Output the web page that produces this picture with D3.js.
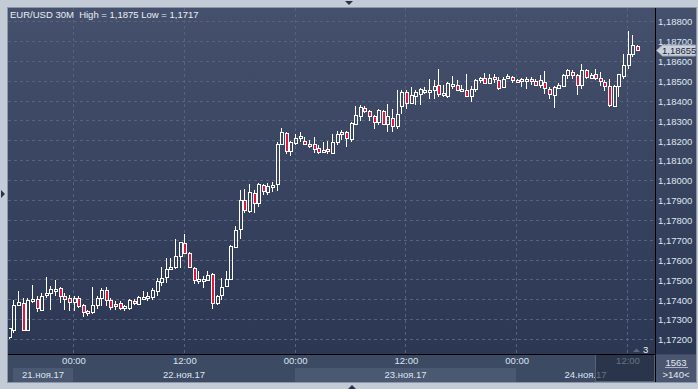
<!DOCTYPE html>
<html><head><meta charset="utf-8">
<script src="https://cdn.jsdelivr.net/npm/d3@7"></script>
<style>
html,body{margin:0;padding:0;background:#c3cbd6;overflow:hidden;}
svg{display:block;font-family:"Liberation Sans",Arial,sans-serif;}
</style></head><body>
<svg id="c" width="698" height="389"></svg>
<script>
// ---------- DATA ----------
const title = "EUR/USD 30M  High = 1,1875 Low = 1,1717";
const firstBarTime = Date.UTC(2017, 10, 21, 17, 0); // 30-minute bars
const barMinutes = 30;
const open = [1.17213,1.17250,1.17372,1.17384,1.17250,1.17397,1.17405,1.17350,1.17422,1.17434,
1.17450,1.17459,1.17420,1.17409,1.17387,1.17409,1.17372,1.17342,1.17337,1.17372,
1.17409,1.17450,1.17397,1.17380,1.17384,1.17359,1.17359,1.17395,1.17380,1.17410,
1.17415,1.17414,1.17442,1.17487,1.17514,1.17554,1.17564,1.17618,1.17684,1.17634,
1.17559,1.17501,1.17502,1.17501,1.17529,1.17384,1.17422,1.17467,1.17504,1.17664,
1.17754,1.17901,1.17848,1.17936,1.17886,1.17977,1.17944,1.17974,1.17981,1.18186,
1.18237,1.18150,1.18190,1.18217,1.18198,1.18186,1.18186,1.18166,1.18148,1.18156,
1.18140,1.18192,1.18232,1.18245,1.18207,1.18282,1.18324,1.18367,1.18349,1.18324,
1.18292,1.18349,1.18282,1.18315,1.18275,1.18375,1.18446,1.18390,1.18424,1.18437,
1.18452,1.18452,1.18454,1.18479,1.18434,1.18426,1.18482,1.18479,1.18456,1.18457,
1.18426,1.18462,1.18504,1.18516,1.18492,1.18521,1.18504,1.18471,1.18518,1.18521,
1.18507,1.18506,1.18504,1.18509,1.18501,1.18479,1.18496,1.18462,1.18429,1.18467,
1.18476,1.18533,1.18546,1.18529,1.18482,1.18558,1.18518,1.18538,1.18518,1.18496,
1.18474,1.18375,1.18474,1.18526,1.18579,1.18638,1.18676];
const high = [1.17259,1.17400,1.17445,1.17409,1.17409,1.17476,1.17417,1.17434,1.17514,1.17467,
1.17497,1.17464,1.17434,1.17425,1.17417,1.17417,1.17380,1.17350,1.17462,1.17417,
1.17457,1.17462,1.17409,1.17392,1.17392,1.17375,1.17404,1.17405,1.17417,1.17445,
1.17437,1.17459,1.17509,1.17564,1.17609,1.17609,1.17704,1.17693,1.17731,1.17638,
1.17564,1.17547,1.17517,1.17547,1.17534,1.17425,1.17509,1.17547,1.17676,1.17771,
1.17952,1.17955,1.17982,1.17950,1.17986,1.17982,1.17986,1.17994,1.18195,1.18262,
1.18245,1.18200,1.18232,1.18242,1.18220,1.18203,1.18220,1.18178,1.18195,1.18198,
1.18233,1.18248,1.18253,1.18248,1.18295,1.18374,1.18379,1.18375,1.18354,1.18332,
1.18359,1.18354,1.18384,1.18362,1.18454,1.18454,1.18454,1.18471,1.18454,1.18466,
1.18471,1.18513,1.18504,1.18559,1.18479,1.18496,1.18526,1.18504,1.18479,1.18537,
1.18474,1.18513,1.18521,1.18542,1.18537,1.18537,1.18521,1.18521,1.18537,1.18526,
1.18513,1.18517,1.18521,1.18521,1.18513,1.18529,1.18549,1.18471,1.18476,1.18492,
1.18534,1.18563,1.18554,1.18537,1.18584,1.18563,1.18542,1.18559,1.18546,1.18504,
1.18509,1.18479,1.18537,1.18638,1.18750,1.18733,1.18683];
const low = [1.17205,1.17233,1.17367,1.17242,1.17242,1.17384,1.17337,1.17342,1.17409,1.17347,
1.17417,1.17384,1.17350,1.17345,1.17342,1.17359,1.17314,1.17317,1.17330,1.17354,
1.17367,1.17367,1.17350,1.17347,1.17350,1.17342,1.17350,1.17375,1.17375,1.17409,
1.17392,1.17400,1.17417,1.17471,1.17484,1.17550,1.17554,1.17559,1.17629,1.17559,
1.17481,1.17481,1.17459,1.17497,1.17354,1.17375,1.17400,1.17464,1.17501,1.17659,
1.17704,1.17835,1.17835,1.17835,1.17869,1.17927,1.17927,1.17944,1.17949,1.18178,
1.18133,1.18125,1.18178,1.18195,1.18178,1.18165,1.18136,1.18131,1.18140,1.18131,
1.18138,1.18178,1.18203,1.18170,1.18195,1.18278,1.18299,1.18342,1.18300,1.18257,
1.18278,1.18278,1.18242,1.18245,1.18258,1.18337,1.18359,1.18384,1.18379,1.18382,
1.18437,1.18409,1.18409,1.18421,1.18421,1.18416,1.18462,1.18454,1.18446,1.18426,
1.18396,1.18446,1.18492,1.18487,1.18487,1.18492,1.18454,1.18467,1.18509,1.18492,
1.18492,1.18471,1.18462,1.18482,1.18476,1.18467,1.18434,1.18409,1.18365,1.18462,
1.18474,1.18513,1.18509,1.18429,1.18462,1.18513,1.18513,1.18504,1.18476,1.18449,
1.18370,1.18370,1.18421,1.18509,1.18563,1.18621,1.18650];
const close = [1.17258,1.17375,1.17389,1.17250,1.17400,1.17405,1.17359,1.17420,1.17434,1.17455,
1.17455,1.17420,1.17404,1.17387,1.17409,1.17367,1.17337,1.17334,1.17372,1.17409,
1.17450,1.17400,1.17364,1.17367,1.17359,1.17370,1.17397,1.17387,1.17414,1.17415,
1.17417,1.17450,1.17492,1.17509,1.17554,1.17567,1.17618,1.17689,1.17634,1.17564,
1.17497,1.17504,1.17506,1.17524,1.17384,1.17420,1.17464,1.17504,1.17668,1.17751,
1.17901,1.17850,1.17940,1.17886,1.17981,1.17949,1.17972,1.17977,1.18186,1.18242,
1.18148,1.18195,1.18215,1.18223,1.18186,1.18185,1.18161,1.18141,1.18155,1.18148,
1.18195,1.18233,1.18242,1.18212,1.18287,1.18329,1.18370,1.18349,1.18324,1.18295,
1.18354,1.18282,1.18325,1.18273,1.18337,1.18446,1.18392,1.18429,1.18446,1.18462,
1.18457,1.18456,1.18474,1.18434,1.18441,1.18492,1.18487,1.18457,1.18459,1.18426,
1.18462,1.18504,1.18516,1.18492,1.18517,1.18509,1.18467,1.18513,1.18524,1.18504,
1.18499,1.18509,1.18509,1.18499,1.18482,1.18504,1.18466,1.18434,1.18471,1.18482,
1.18533,1.18554,1.18529,1.18479,1.18558,1.18521,1.18533,1.18518,1.18501,1.18476,
1.18379,1.18476,1.18534,1.18583,1.18638,1.18683,1.18655];
const priceTicks = [1.172,1.173,1.174,1.175,1.176,1.177,1.178,1.179,1.180,1.181,1.182,1.183,1.184,1.185,1.186,1.187,1.188];
const timeTicks = [Date.UTC(2017,10,22,0),Date.UTC(2017,10,22,12),Date.UTC(2017,10,23,0),Date.UTC(2017,10,23,12),Date.UTC(2017,10,24,0),Date.UTC(2017,10,24,12)];
const timeTickLabels = ["00:00","12:00","00:00","12:00","00:00","12:00"];
const dayStarts = [Date.UTC(2017,10,21,0),Date.UTC(2017,10,22,0),Date.UTC(2017,10,23,0),Date.UTC(2017,10,24,0),Date.UTC(2017,10,25,0)];
const dateLabels = ["21.ноя.17","22.ноя.17","23.ноя.17","24.ноя.17"];
const lastPrice = 1.18655;
const barsTotalLabel = "1563";
const visibleLabel = ">140<";
const markerLabel = "3";

// ---------- LAYOUT ----------
const W = 698, H = 389;
const L = 8, R = 655, T = 8, B = 354, AX = 382, RP = 696;
const svg = d3.select("#c");
const defs = svg.append("defs");
const grad = defs.append("linearGradient").attr("id","bg").attr("gradientUnits","userSpaceOnUse")
  .attr("x1",0).attr("y1",T).attr("x2",0).attr("y2",B);
grad.append("stop").attr("offset","0").attr("stop-color","#45516c");
grad.append("stop").attr("offset","1").attr("stop-color","#2c3753");
defs.append("clipPath").attr("id","clip").append("rect").attr("x",L+1).attr("y",T).attr("width",R-L-1).attr("height",B-T);

const fmt = v => d3.format(".5f")(v).replace(".", ",");
const fmtC = v => v.toString().replace(".", ",");

const bars = open.map((o,i)=>({t:firstBarTime + i*barMinutes*60000, o, h:high[i], l:low[i], c:close[i]}));

const x = d3.scaleUtc().domain([timeTicks[0], timeTicks[timeTicks.length-1]]).range([73.5, 627.5]);
const y = d3.scaleLinear().domain([1.172, 1.188]).range([339.5, 21.5]);

// panel
svg.append("rect").attr("x",7.5).attr("y",7.5).attr("width",RP-7).attr("height",AX-7).attr("fill","#3d4a64").attr("stroke","#8c97a9");
svg.append("rect").attr("x",L).attr("y",T).attr("width",RP-L).attr("height",B-T).attr("fill","url(#bg)");

// grid
const grid = svg.append("g").attr("stroke","#56637e").attr("stroke-dasharray","3,3").attr("stroke-width",1);
priceTicks.forEach(p=>{
  const yy = Math.floor(y(p))+0.5;
  grid.append("line").attr("x1",L).attr("x2",R).attr("y1",yy).attr("y2",yy);
});
timeTicks.forEach(t=>{
  const xx = Math.floor(x(t))+0.5;
  grid.append("line").attr("x1",xx).attr("x2",xx).attr("y1",T).attr("y2",B);
});

// candles
const cg = svg.append("g").attr("clip-path","url(#clip)");
bars.forEach(d=>{
  const cx = Math.round(x(d.t)) + 0.5;
  const top = Math.round(y(Math.max(d.o,d.c)));
  let bot = Math.round(y(Math.min(d.o,d.c)));
  if (bot - top < 2) bot = top + 2;
  const yh = Math.round(y(d.h)), yl = Math.round(y(d.l));
  if (yh < top) cg.append("line").attr("x1",cx).attr("x2",cx).attr("y1",yh).attr("y2",top+0.5).attr("stroke","#fff");
  if (yl > bot) cg.append("line").attr("x1",cx).attr("x2",cx).attr("y1",bot+0.5).attr("y2",yl).attr("stroke","#fff");
  cg.append("rect").attr("x",cx-1).attr("y",top+0.5).attr("width",3).attr("height",bot-top)
    .attr("fill", d.c < d.o ? "#e2163b" : "none").attr("stroke","#fff").attr("stroke-width",1);
});

// title
svg.append("text").attr("x",10).attr("y",18).attr("fill","#e8edf4").attr("font-size","9.5px")
  .style("white-space","pre").text(title);

// right axis
const yAxis = d3.axisRight(y).tickValues(priceTicks).tickSize(0).tickPadding(3).tickFormat(fmt);
const ya = svg.append("g").attr("transform",`translate(${R},0)`).call(yAxis);
ya.select(".domain").remove();
ya.selectAll("text").attr("fill","#dfe6f1").attr("font-size","9.5px").attr("font-family","Liberation Sans, Arial, sans-serif").attr("dy","0.35em");

// bottom axis area
svg.append("rect").attr("x",L).attr("y",B+1).attr("width",R-L).attr("height",AX-B-1).attr("fill","#3d4a64");
dayStarts.slice(0,-1).forEach((d,i)=>{
  const x0 = Math.max(13, Math.floor(x(d))), x1 = Math.min(R, Math.floor(x(dayStarts[i+1])));
  if (i % 2 === 0) svg.append("rect").attr("x",x0).attr("y",368).attr("width",x1-x0).attr("height",AX-368).attr("fill","#4b5871");
  svg.append("text").attr("x",(x0+x1)/2).attr("y",377.5).attr("text-anchor","middle").attr("fill","#dbe4f1").attr("font-size","9.5px").text(dateLabels[i]);
});
const xAxis = d3.axisBottom(x).tickValues(timeTicks).tickSize(0).tickPadding(0).tickFormat((d,i)=>timeTickLabels[i]);
const xa = svg.append("g").attr("transform",`translate(0,${B+3})`).call(xAxis);
xa.select(".domain").remove();
xa.selectAll("text").attr("fill","#dbe4f1").attr("font-size","9.5px").attr("font-family","Liberation Sans, Arial, sans-serif").attr("dy","0.71em");
// dimmed "future" zone
svg.append("rect").attr("x",595.5).attr("y",B+0.5).attr("width",R-596).attr("height",AX-B-1)
  .attr("fill","#1e273c").attr("fill-opacity",0.62).attr("stroke","#56627a");

// separators
svg.append("line").attr("x1",L).attr("x2",R).attr("y1",B+0.5).attr("y2",B+0.5).attr("stroke","#000");
svg.append("line").attr("x1",R+0.5).attr("x2",R+0.5).attr("y1",T).attr("y2",AX).attr("stroke","#000");

// right bottom box
svg.append("rect").attr("x",R+1).attr("y",B+1).attr("width",RP-R-1).attr("height",AX-B-1).attr("fill","#4a566f");
svg.append("text").attr("x",676).attr("y",365.5).attr("text-anchor","middle").attr("fill","#e3e9f2").attr("font-size","9.5px").text(barsTotalLabel);
svg.append("line").attr("x1",665).attr("x2",688).attr("y1",367.5).attr("y2",367.5).attr("stroke","#aab4c4");
svg.append("text").attr("x",676).attr("y",377.5).attr("text-anchor","middle").attr("fill","#e3e9f2").attr("font-size","9.5px").text(visibleLabel);

// marker "3"
svg.append("path").attr("d","M633,352 L640,352 L636.5,348.5 Z").attr("fill","#5b6780");
svg.append("text").attr("x",643).attr("y",352.5).attr("fill","#eef2f7").attr("font-size","9.5px").text(markerLabel);

// last price label
const yc = Math.round(y(lastPrice)) + 0.5;
svg.append("path").attr("d",`M656.5,${yc} L662.5,${yc-5.5} L695.5,${yc-5.5} L695.5,${yc+5.5} L662.5,${yc+5.5} Z`)
  .attr("fill","#c9d1dc").attr("stroke","#98a3b4");
svg.append("text").attr("x",662).attr("y",yc).attr("dy","0.35em").attr("fill","#1b2336").attr("font-size","9.5px").text(fmt(lastPrice));

// nav triangles
svg.append("path").attr("d","M345,1 L353,1 L349,5 Z").attr("fill","#2b3446");
svg.append("path").attr("d","M348,389 L356,389 L352,385 Z").attr("fill","#2b3446");
svg.append("path").attr("d","M1,190 L1,198 L5,194 Z").attr("fill","#2b3446");
</script>
</body></html>
